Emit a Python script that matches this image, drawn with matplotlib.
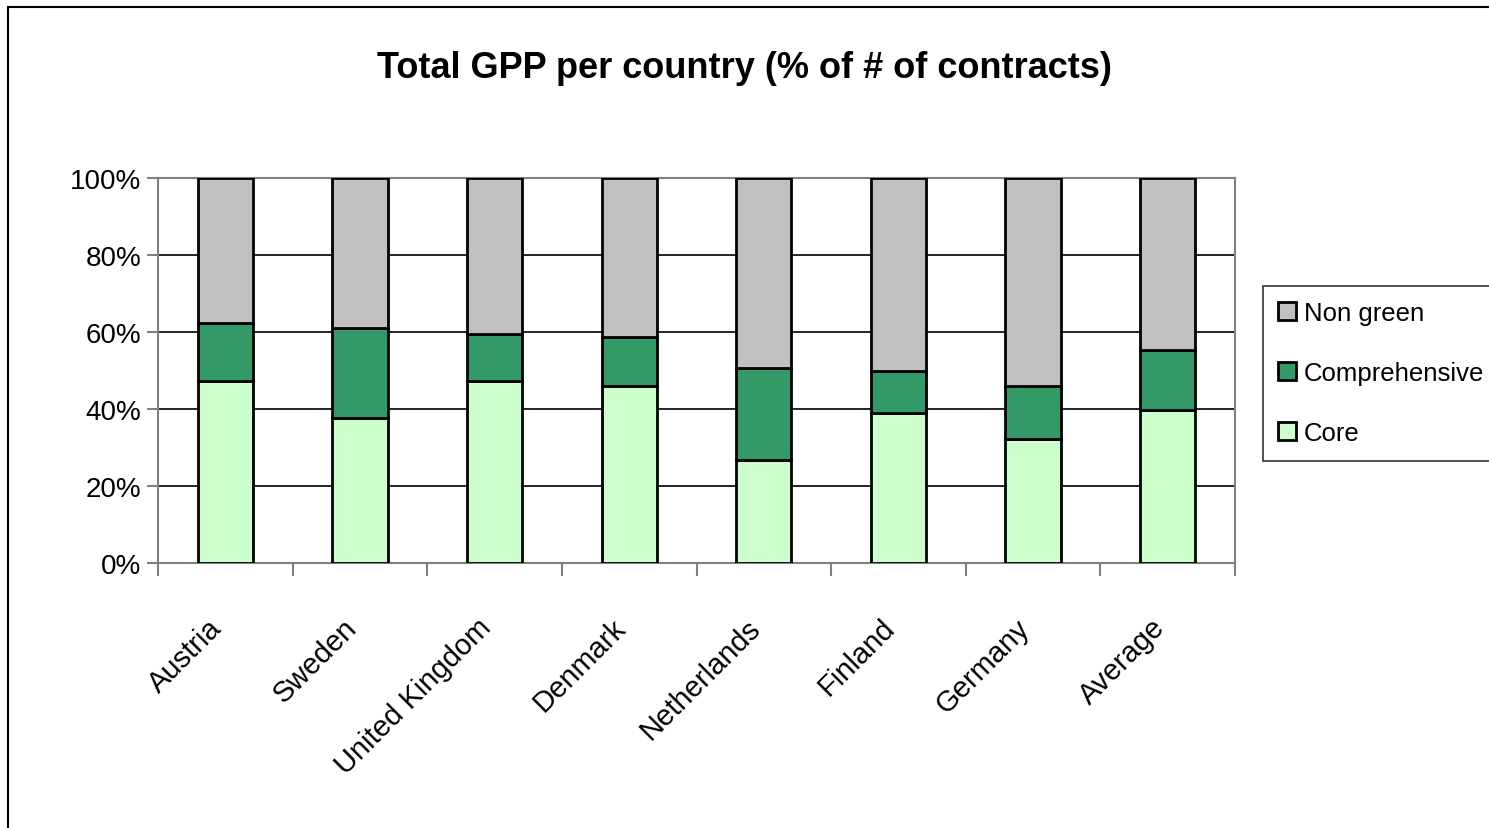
import matplotlib.pyplot as plt
from matplotlib.patches import Rectangle

countries = ["Austria", "Sweden", "United Kingdom", "Denmark",
             "Netherlands", "Finland", "Germany", "Average"]
core = [47.3, 37.7, 47.3, 46.0, 26.8, 39.0, 32.2, 39.7]
comprehensive = [15.0, 23.3, 12.2, 12.7, 23.8, 10.9, 13.8, 15.6]
non_green = [100 - a - b for a, b in zip(core, comprehensive)]

plt.rcParams["font.family"] = ["Liberation Sans", "DejaVu Sans"]

fig = plt.figure(figsize=(14.89, 8.29), dpi=100)
ax = fig.add_axes([158 / 1489, 1 - 564 / 829, (1235 - 158) / 1489, (564 - 179) / 829])

x = range(len(countries))
w = 0.41
b1 = ax.bar(x, core, w, color="#ccffcc", edgecolor="black", linewidth=2, label="Core", zorder=3)
b2 = ax.bar(x, comprehensive, w, bottom=core, color="#339966", edgecolor="black",
            linewidth=2, label="Comprehensive", zorder=3)
bottom2 = [a + b for a, b in zip(core, comprehensive)]
b3 = ax.bar(x, non_green, w, bottom=bottom2, color="#c0c0c0", edgecolor="black",
            linewidth=2, label="Non green", zorder=3)

ax.set_xlim(-0.5, len(countries) - 0.5)
ax.set_ylim(0, 100)
ax.set_yticks(range(0, 101, 20))
ax.set_yticklabels([f"{v}%" for v in range(0, 101, 20)], fontsize=20)
ax.yaxis.grid(True, color="black", linewidth=1.2, zorder=0)
ax.set_axisbelow(True)

ax.set_xticks([i + 0.5 for i in range(-1, len(countries))])
ax.set_xticklabels([])
ax.tick_params(axis="x", direction="out", length=9, color="#808080", width=1.5)
ax.tick_params(axis="y", direction="out", length=8, color="#808080", width=1.5, pad=4)
for i, name in enumerate(countries):
    ax.text(i - 0.13, -13, name, rotation=45, ha="right", va="top",
            rotation_mode="anchor", fontsize=21)

for s in ["left", "bottom", "right", "top"]:
    ax.spines[s].set_color("#808080")
    ax.spines[s].set_linewidth(1.5)

fig.text(0.5, 1 - 68 / 829, "Total GPP per country (% of # of contracts)",
         ha="center", va="center", fontsize=26, fontweight="bold")

leg = fig.legend(handles=[b3, b2, b1], loc="upper left",
                 bbox_to_anchor=(1263 / 1489, 1 - 287 / 829), fontsize=18.5,
                 frameon=True, fancybox=False, edgecolor="black",
                 handlelength=0.7, handleheight=0.7, handletextpad=0.3,
                 borderpad=0.6, labelspacing=1.4, borderaxespad=0)
leg.get_frame().set_linewidth(1.2)

fig.patches.append(Rectangle((8 / 1489, -0.01), 2, 1 - 8 / 829 + 0.01,
                             transform=fig.transFigure, fill=False,
                             edgecolor="black", linewidth=1.5))

fig.savefig("out.png", dpi=100)
